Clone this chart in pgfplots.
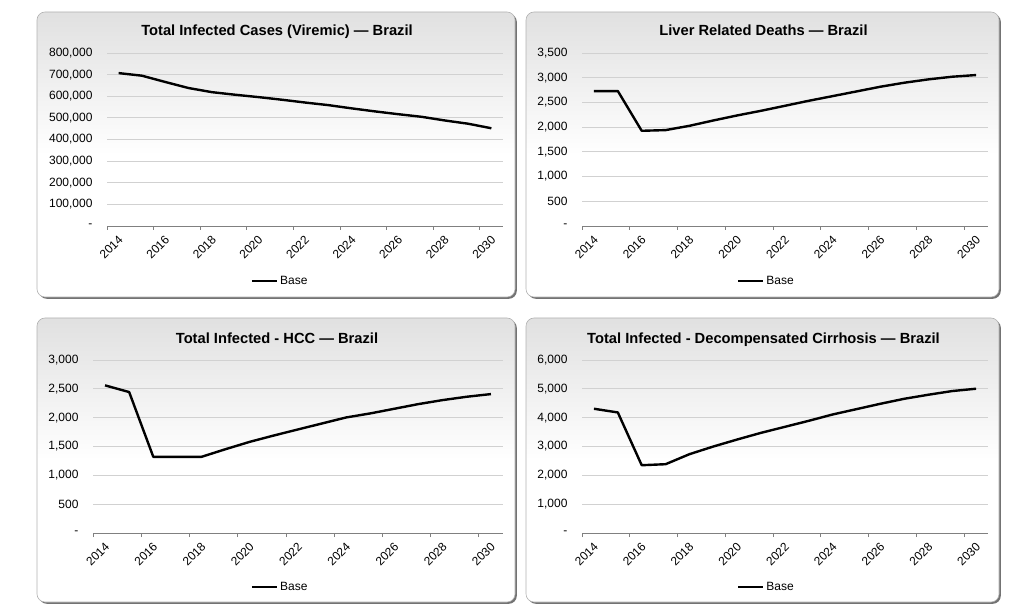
\documentclass[border=0pt]{standalone}
\usepackage{fontspec}
\setmainfont{Liberation Sans}
\usepackage{pgfplots}
\usepackage{pgfplotstable}
\pgfplotsset{compat=1.18}

\pgfplotstableread{
x p1 p2 p3 p4
0 707000 2730 2560 4309
1 695000 2730 2444 4181
2 666000 1926 1321 2351
3 638000 1940 1321 2386
4 619000 2027 1321 2734
5 607000 2135 1454 3000
6 596000 2237 1581 3243
7 584000 2331 1691 3475
8 571000 2432 1796 3683
9 559000 2534 1900 3892
10 544000 2628 2004 4112
11 530000 2723 2074 4297
12 517000 2818 2155 4483
13 505000 2899 2236 4656
14 488000 2966 2305 4795
15 473000 3020 2363 4923
16 452000 3054 2409 5004
}\data

\newcommand{\tickfont}{\fontsize{12}{14}\selectfont}
\pgfplotsset{
 panel/.style={
  scale only axis, anchor=south west, height=173pt,
  scaled y ticks=false,
  xmin=-0.5, xmax=16.5, xtick={0,2,...,16},
  xticklabels={2014,2016,2018,2020,2022,2024,2026,2028,2030},
  minor xtick={-0.5,1.5,3.5,5.5,7.5,9.5,11.5,13.5,15.5},
  major tick length=0pt, minor tick length=4pt, tick align=outside,
  every minor tick/.style={black!50, line width=0.8pt},
  axis lines*=left,
  x axis line style={black!50, line width=0.8pt},
  y axis line style={draw=none},
  ymin=0, ymajorgrids, grid style={black!18, line width=0.8pt},
  xticklabel style={xshift=-1pt, yshift=-7pt, rotate=45, anchor=north east, font=\tickfont, text=black, inner sep=1pt},
  yticklabel style={font=\tickfont, text=black, xshift=-11pt},
  legend style={draw=none, fill=none, font=\tickfont, text=black, anchor=center, legend cell align=left},
  legend image code/.code={\draw[black, line width=2.6pt] (0pt,0pt) -- (25pt,0pt);},
  clip=false,
 },
 dline/.style={black, line width=2.4pt, line join=round},
}

\newcommand{\panelbox}[4]{%
  \fill[black!55, rounded corners=8pt] (#1pt+1.8pt,#2pt-1.8pt) rectangle (#3pt+1.8pt,#4pt-1.8pt);
  \shade[rounded corners=8pt, top color=black!12, bottom color=white, middle color=white, draw=black!30, line width=0.6pt] (#1pt,#2pt) rectangle (#3pt,#4pt);
}
\newcommand{\ptitle}{\bfseries\fontsize{14.7}{16}\selectfont}

\begin{document}
\begin{tikzpicture}
\path[use as bounding box] (0,0) rectangle (1024pt,610pt);
\panelbox{37}{313}{515}{598}
\panelbox{526}{313}{999}{598}
\panelbox{37}{8}{515}{292}
\panelbox{526}{8}{999}{292}

\node[font=\ptitle, text=black, anchor=base] at (277pt,574pt) {Total Infected Cases (Viremic) — Brazil};
\node[font=\ptitle, text=black, anchor=base] at (763.5pt,574pt) {Liver Related Deaths — Brazil};
\node[font=\ptitle, text=black, anchor=base] at (277pt,266pt) {Total Infected - HCC — Brazil};
\node[font=\ptitle, text=black, anchor=base] at (763.5pt,266pt) {Total Infected - Decompensated Cirrhosis — Brazil};

\begin{axis}[panel, at={(107pt,384pt)}, width=396pt, ymax=800000,
  ytick={0,100000,200000,300000,400000,500000,600000,700000,800000},
  yticklabels={-,{100,000},{200,000},{300,000},{400,000},{500,000},{600,000},{700,000},{800,000}},
  legend style={at={(0.437,-0.318)}}]
\addplot[dline] table[x=x,y=p1] {\data};
\addlegendentry{Base}
\end{axis}

\begin{axis}[panel, at={(582pt,384pt)}, width=406pt, ymax=3500,
  ytick={0,500,1000,1500,2000,2500,3000,3500},
  yticklabels={-,500,{1,000},{1,500},{2,000},{2,500},{3,000},{3,500}},
  legend style={at={(0.454,-0.318)}}]
\addplot[dline] table[x=x,y=p2] {\data};
\addlegendentry{Base}
\end{axis}

\begin{axis}[panel, at={(93pt,77pt)}, width=410pt, ymax=3000,
  ytick={0,500,1000,1500,2000,2500,3000},
  yticklabels={-,500,{1,000},{1,500},{2,000},{2,500},{3,000}},
  legend style={at={(0.456,-0.312)}}]
\addplot[dline] table[x=x,y=p3] {\data};
\addlegendentry{Base}
\end{axis}

\begin{axis}[panel, at={(582pt,77pt)}, width=406pt, ymax=6000,
  ytick={0,1000,2000,3000,4000,5000,6000},
  yticklabels={-,{1,000},{2,000},{3,000},{4,000},{5,000},{6,000}},
  legend style={at={(0.454,-0.312)}}]
\addplot[dline] table[x=x,y=p4] {\data};
\addlegendentry{Base}
\end{axis}
\end{tikzpicture}
\end{document}
